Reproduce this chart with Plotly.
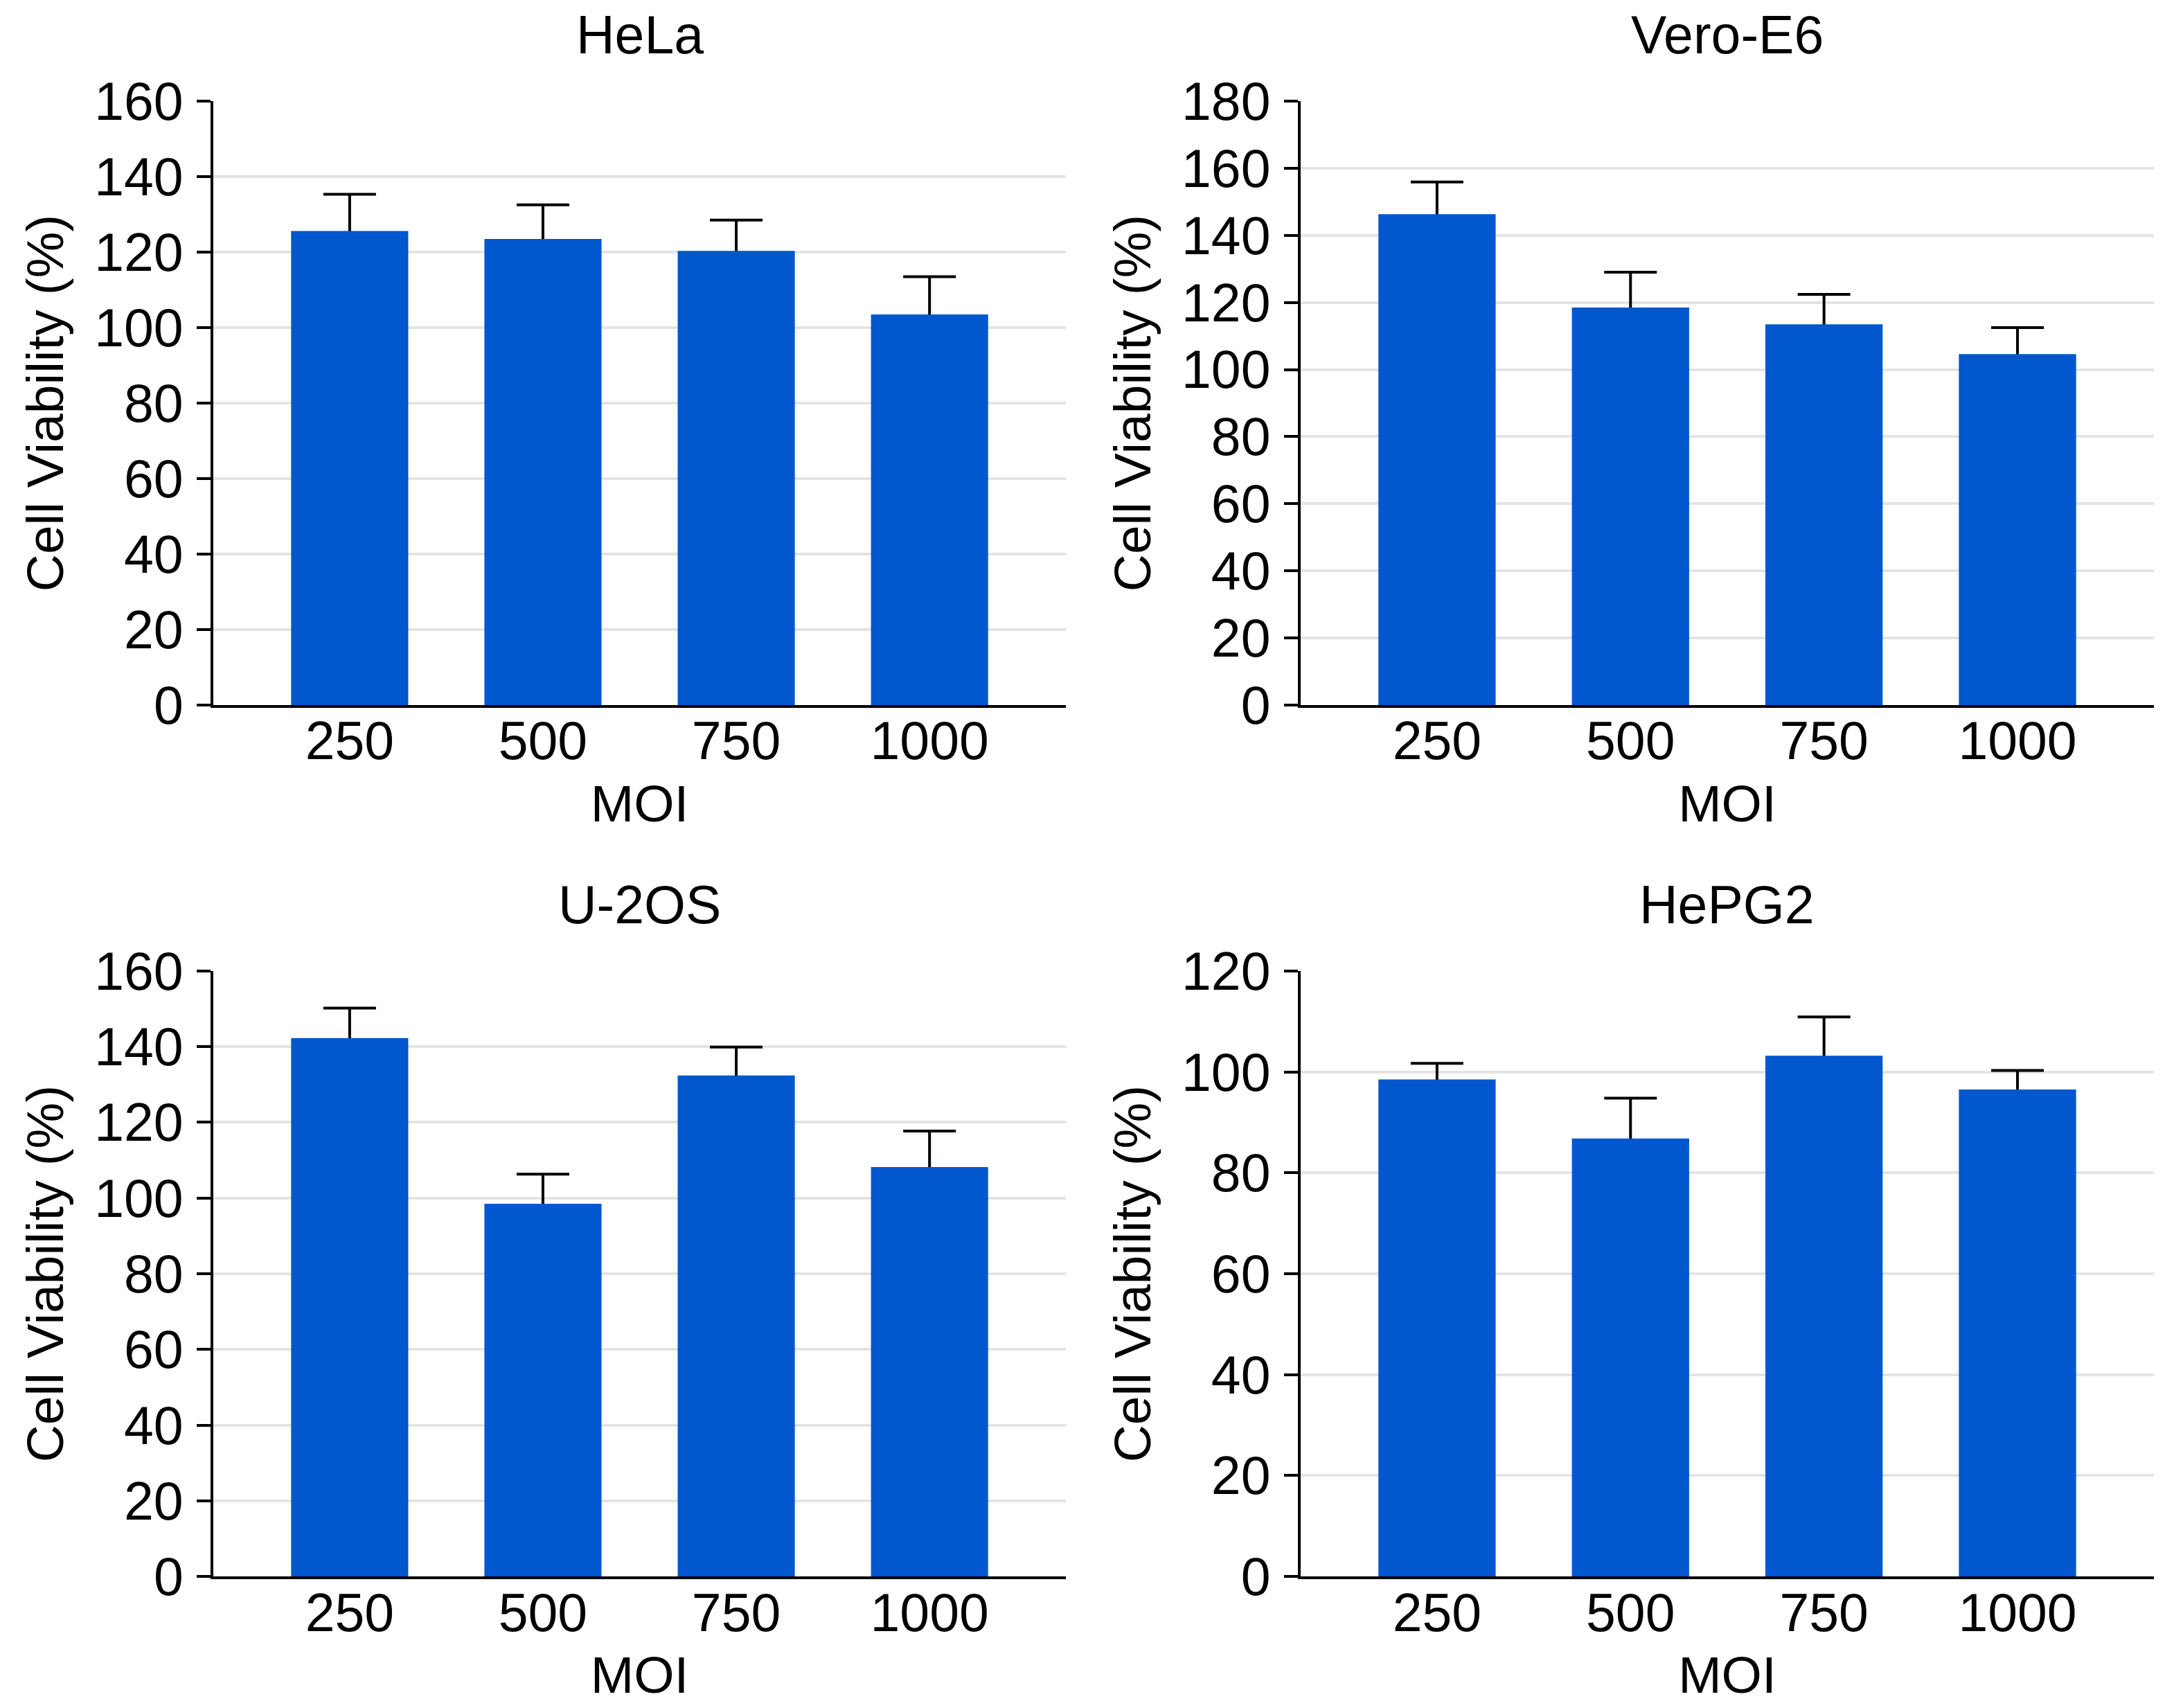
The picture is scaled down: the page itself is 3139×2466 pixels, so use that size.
import plotly.graph_objects as go

# MOI categories shared by all four panels
moi = ["250", "500", "750", "1000"]

# cell viability (%), mean and upper error (SD)
hela_mean = [125.6, 123.5, 120.3, 103.5]
hela_err = [9.7, 9.0, 8.2, 10.0]

vero_mean = [146.3, 118.5, 113.5, 104.6]
vero_err = [9.6, 10.5, 8.9, 7.9]

u2os_mean = [142.3, 98.5, 132.4, 108.2]
u2os_err = [7.9, 7.8, 7.5, 9.5]

hepg2_mean = [98.5, 86.8, 103.2, 96.5]
hepg2_err = [3.2, 8.0, 7.7, 3.8]

# the page body adds a small margin, so pull the panels back by that much
DX = -5 / 3139
DY = 8 / 2466
LEFT = [0.0972 + DX, 0.4893 + DX]
RIGHT = [0.5973 + DX, 0.9898 + DX]
TOP = [0.5872 + DY, 0.9408 + DY]
BOTTOM = [0.0770 + DY, 0.4315 + DY]

panels = [
    # name, mean, err, y max, x domain, y domain
    ("HeLa", hela_mean, hela_err, 160, LEFT, TOP),
    ("Vero-E6", vero_mean, vero_err, 180, RIGHT, TOP),
    ("U-2OS", u2os_mean, u2os_err, 160, LEFT, BOTTOM),
    ("HePG2", hepg2_mean, hepg2_err, 120, RIGHT, BOTTOM),
]

BLUE = "#0057CE"
FONT = "Liberation Sans"
FS_TICK = 77
FS_TITLE = 75

fig = go.Figure()

for i, (name, mean, err, ymax, xd, yd) in enumerate(panels):
    n = "" if i == 0 else str(i + 1)
    # invisible bars carrying the error bars, drawn first so the real bars hide the lower half
    fig.add_trace(go.Bar(
        x=moi, y=mean,
        marker=dict(color="rgba(0,0,0,0)", line=dict(width=0)),
        error_y=dict(type="data", array=err, symmetric=True,
                     color="black", thickness=4, width=38),
        xaxis="x" + n, yaxis="y" + n,
        showlegend=False, hoverinfo="skip",
    ))
    fig.add_trace(go.Bar(
        x=moi, y=mean,
        marker=dict(color=BLUE, line=dict(width=0)),
        xaxis="x" + n, yaxis="y" + n,
        showlegend=False, name=name,
    ))

    fig.layout["xaxis" + n] = dict(
        domain=xd, anchor="y" + n, type="category",
        range=[-0.705, 3.705], automargin=False,
        showline=True, linecolor="black", linewidth=4,
        ticks="", showgrid=False,
        tickfont=dict(family=FONT, size=FS_TICK, color="black"),
        ticklabelstandoff=-18,
        title=dict(text="MOI", font=dict(family=FONT, size=FS_TITLE, color="black"),
                   standoff=23),
    )
    fig.layout["yaxis" + n] = dict(
        domain=yd, anchor="x" + n, automargin=False,
        range=[0, ymax], dtick=20, tick0=0,
        showline=True, linecolor="black", linewidth=4,
        ticks="outside", ticklen=20, tickwidth=4, tickcolor="black",
        showgrid=True, gridcolor="#e4e4e4", gridwidth=4,
        zeroline=False,
        tickfont=dict(family=FONT, size=FS_TICK, color="black"),
        ticklabelstandoff=4,
        title=dict(text="Cell Viability (%)",
                   font=dict(family=FONT, size=FS_TITLE, color="black"),
                   standoff=21),
    )

    fig.add_annotation(
        text=name, showarrow=False,
        x=(xd[0] + xd[1]) / 2, xref="paper", xanchor="center",
        y=yd[1] + 0.039, yref="paper", yanchor="middle",
        font=dict(family=FONT, size=FS_TICK, color="black"),
    )

fig.update_layout(
    width=3139, height=2466,
    margin=dict(l=0, r=0, t=0, b=0),
    paper_bgcolor="white", plot_bgcolor="white",
    barmode="overlay", bargap=0.394,
)

fig.write_html("out.html")
